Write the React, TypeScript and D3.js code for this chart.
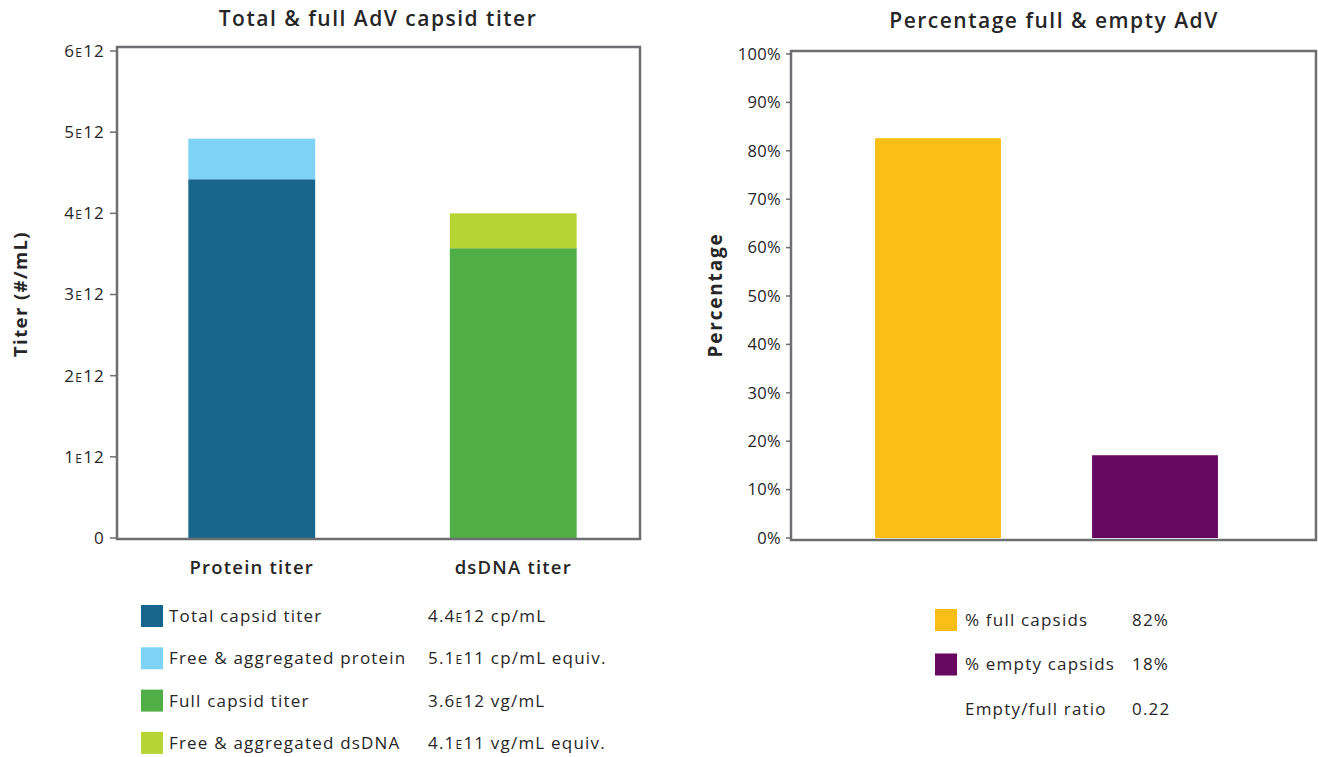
import * as d3 from 'd3';

// Left chart: stacked titer bars (values in units of 1E12 per mL)
const titerCategories = ['Protein titer', 'dsDNA titer'];
const titerBase = [4.42, 3.57];
const titerFree = [0.5, 0.43];
const titerBaseColors = ['#19668d', '#50ae47'];
const titerFreeColors = ['#7dd2f6', '#b6d535'];
const titerTicks = [0, 1, 2, 3, 4, 5, 6];

const titerLegendLabels = ['Total capsid titer', 'Free & aggregated protein', 'Full capsid titer', 'Free & aggregated dsDNA'];
const titerLegendValues = [['4.4', '12 cp/mL'], ['5.1', '11 cp/mL equiv.'], ['3.6', '12 vg/mL'], ['4.1', '11 vg/mL equiv.']];
const titerLegendColors = ['#19668d', '#7dd2f6', '#50ae47', '#b6d535'];

// Right chart: percentage full & empty
const pctCategories = ['full', 'empty'];
const pctValues = [82.6, 17.1];
const pctColors = ['#fbbe14', '#66085f'];
const pctTicks = [0, 10, 20, 30, 40, 50, 60, 70, 80, 90, 100];
const pctLegendLabels = ['% full capsids', '% empty capsids', 'Empty/full ratio'];
const pctLegendValues = ['82%', '18%', '0.22'];

const FONT = '"Open Sans", sans-serif';
const TEXT = '#262626';
const FRAME = '#6d6e71';

export default function App() {
    // Left scales
    const xL = d3.scaleBand<string>()
        .domain(titerCategories)
        .range([121, 644])
        .paddingInner(0.515)
        .paddingOuter(0.2575);
    const yL = d3.scaleLinear().domain([0, 6]).range([538, 51]);

    // Right scales
    const xR = d3.scaleBand<string>()
        .domain(pctCategories)
        .range([829.5, 1263.5])
        .paddingInner(0.42)
        .paddingOuter(0.21);
    const yR = d3.scaleLinear().domain([0, 100]).range([538, 54]);

    const fmtE = (v: number) => {
        if (v === 0) return <tspan>0</tspan>;
        return (
            <>
                <tspan>{v}</tspan>
                <tspan fontSize="12">E</tspan>
                <tspan>12</tspan>
            </>
        );
    };

    return (
        <svg width={1318} height={757} style={{ position: 'absolute', left: 0, top: 0 }} fontFamily={FONT}>
            <rect x={0} y={0} width={1318} height={757} fill="#fff" />

            {/* Left chart */}
            <text x={378} y={26} textAnchor="middle" fontSize={21} fontWeight={600} letterSpacing={1.5} fill={TEXT}>
                Total &amp; full AdV capsid titer
            </text>
            <text transform="translate(27,294) rotate(-90)" textAnchor="middle" fontSize={18.5} fontWeight={700} letterSpacing={1.4} fill={TEXT}>
                Titer (#/mL)
            </text>
            {titerCategories.map((c, i) => (
                <g key={c}>
                    <rect x={xL(c)} width={xL.bandwidth()} y={yL(titerBase[i])} height={yL(0) - yL(titerBase[i])} fill={titerBaseColors[i]} />
                    <rect x={xL(c)} width={xL.bandwidth()} y={yL(titerBase[i] + titerFree[i])} height={yL(titerBase[i]) - yL(titerBase[i] + titerFree[i])} fill={titerFreeColors[i]} />
                    <text x={(xL(c) ?? 0) + xL.bandwidth() / 2} y={574} textAnchor="middle" fontSize={18.5} fontWeight={600} letterSpacing={1.2} fill={TEXT}>{c}</text>
                </g>
            ))}
            {titerTicks.map(t => (
                <g key={t} transform={`translate(0,${yL(t)})`}>
                    <line x1={110} x2={117} stroke={FRAME} strokeWidth={1.5} />
                    <text x={105} dy="0.35em" textAnchor="end" fontSize={17} letterSpacing={1.2} fill={TEXT}>{fmtE(t)}</text>
                </g>
            ))}
            <rect x={117} y={47} width={523} height={492} fill="none" stroke={FRAME} strokeWidth={2.5} />

            {titerLegendLabels.map((l, i) => {
                const cy = 616 + i * 42.3;
                return (
                    <g key={l} transform={`translate(0,${cy})`}>
                        <rect x={141} y={-11} width={22} height={22} fill={titerLegendColors[i]} />
                        <text x={169} dy="0.35em" fontSize={17} letterSpacing={1.2} fill={TEXT}>{l}</text>
                        <text x={428} dy="0.35em" fontSize={17} letterSpacing={1.2} fill={TEXT}>
                            <tspan>{titerLegendValues[i][0]}</tspan>
                            <tspan fontSize={12}>E</tspan>
                            <tspan>{titerLegendValues[i][1]}</tspan>
                        </text>
                    </g>
                );
            })}

            {/* Right chart */}
            <text x={1054} y={28} textAnchor="middle" fontSize={21} fontWeight={600} letterSpacing={1.5} fill={TEXT}>
                Percentage full &amp; empty AdV
            </text>
            <text transform="translate(722,295) rotate(-90)" textAnchor="middle" fontSize={19} fontWeight={700} letterSpacing={1.8} fill={TEXT}>
                Percentage
            </text>
            {pctCategories.map((c, i) => (
                <rect key={c} x={xR(c)} width={xR.bandwidth()} y={yR(pctValues[i])} height={yR(0) - yR(pctValues[i])} fill={pctColors[i]} />
            ))}
            {pctTicks.map(t => (
                <g key={t} transform={`translate(0,${yR(t)})`}>
                    <line x1={786} x2={791} stroke={FRAME} strokeWidth={1.5} />
                    <text x={781} dy="0.35em" textAnchor="end" fontSize={16.5} letterSpacing={0.3} fill={TEXT}>{t}%</text>
                </g>
            ))}
            <rect x={791} y={51} width={525} height={489} fill="none" stroke={FRAME} strokeWidth={2.5} />

            {pctLegendLabels.map((l, i) => {
                const cy = 620 + i * 44.5;
                return (
                    <g key={l} transform={`translate(0,${cy})`}>
                        {i < pctColors.length && <rect x={935} y={-11} width={22} height={22} fill={pctColors[i]} />}
                        <text x={965} dy="0.35em" fontSize={17} letterSpacing={1.2} fill={TEXT}>{l}</text>
                        <text x={1132} dy="0.35em" fontSize={17} letterSpacing={1.2} fill={TEXT}>{pctLegendValues[i]}</text>
                    </g>
                );
            })}
        </svg>
    );
}
